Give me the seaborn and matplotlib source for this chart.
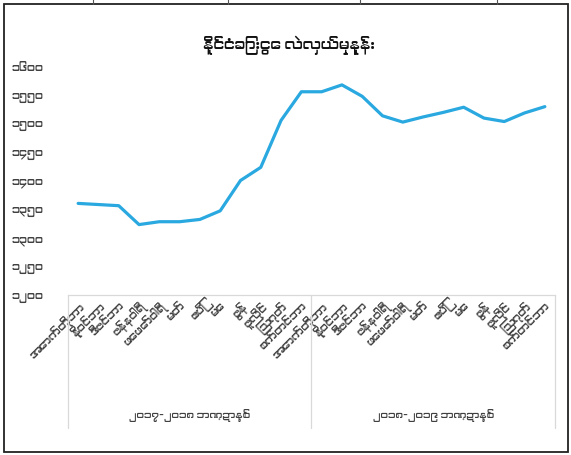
"""Foreign exchange rate line chart (Myanmar fiscal years)."""

import matplotlib
matplotlib.use("Agg")
import matplotlib.pyplot as plt
from matplotlib import font_manager
from matplotlib.lines import Line2D
from matplotlib.patches import Rectangle
from matplotlib.ticker import FuncFormatter, MultipleLocator
import numpy as np
import pandas as pd
import seaborn as sns


TITLE = "နိုင်ငံခြားငွေ လဲလှယ်မှုနှုန်း"
months = ["အောက်တိုဘာ", "နိုဝင်ဘာ", "ဒီဇင်ဘာ", "ဇန်နဝါရီ", "ဖေဖော်ဝါရီ", "မတ်",
          "ဧပြီ", "မေ", "ဇွန်", "ဇူလိုင်", "ဩဂုတ်", "စက်တင်ဘာ"]
fiscal_years = ["၂၀၁၇-၂၀၁၈ ဘဏ္ဍာနှစ်", "၂၀၁၈-၂၀၁၉ ဘဏ္ဍာနှစ်"]
rate_fy1 = [1360, 1358, 1356, 1323, 1328, 1328, 1332, 1347, 1400, 1423, 1505, 1555]
rate_fy2 = [1555, 1567, 1547, 1513, 1502, 1511, 1519, 1528, 1509, 1503, 1518, 1529]
y_ticks = [1200, 1250, 1300, 1350, 1400, 1450, 1500, 1550, 1600]

MM_DIGITS = str.maketrans("0123456789", "၀၁၂၃၄၅၆၇၈၉")

BLUE = "#2AA8E0"
GRID = "#D9D9D9"
TEXT = "#404040"


def myanmar_family():
    for f in font_manager.fontManager.ttflist:
        if any(k in f.name for k in ("Myanmar", "Padauk", "Zawgyi")):
            return [f.name, "DejaVu Sans"]
    return ["DejaVu Sans"]


sns.set_style("white")
plt.rcParams["font.family"] = myanmar_family()

df = pd.DataFrame({
    "pos": np.arange(len(months) * 2),
    "month": months + months,
    "rate": rate_fy1 + rate_fy2,
})

fig = plt.figure(figsize=(5.71, 4.56), dpi=100)
ax = fig.add_axes([68 / 571, 1 - 296 / 456, 487 / 571, 229 / 456])

sns.lineplot(data=df, x="pos", y="rate", ax=ax, color=BLUE, linewidth=2.3)

ax.set_xlim(-0.5, len(df) - 0.5)
ax.set_ylim(y_ticks[0], y_ticks[-1])
ax.yaxis.set_major_locator(MultipleLocator(50))
ax.yaxis.set_major_formatter(FuncFormatter(lambda v, _: str(int(v)).translate(MM_DIGITS)))
ax.tick_params(axis="y", length=0, pad=18, labelsize=8, labelcolor=TEXT)

ax.set_xticks(df["pos"])
ax.set_xticklabels(df["month"], rotation=45, ha="right", rotation_mode="anchor",
                   fontsize=7.8, color=TEXT)
ax.tick_params(axis="x", length=0, pad=3)
ax.set_xlabel("")
ax.set_ylabel("")

for side in ("left", "top", "right"):
    ax.spines[side].set_visible(False)
ax.spines["bottom"].set_color(GRID)
ax.spines["bottom"].set_linewidth(0.9)

# multi-level category axis: group separators and fiscal-year labels
n = len(months)
for xb in [-0.5, n - 0.5, 2 * n - 0.5]:
    ax.plot([xb, xb], [0, -0.58], transform=ax.get_xaxis_transform(),
            clip_on=False, color=GRID, linewidth=0.9)
for i, label in enumerate(fiscal_years):
    ax.text(i * n + (n - 1) / 2, -0.52, label, transform=ax.get_xaxis_transform(),
            ha="center", va="center", fontsize=7.5, color=TEXT)

fig.text(289 / 571, 1 - 45 / 456, TITLE, ha="center", va="center",
         fontsize=10.5, color="#111111")

# outer frame of the chart object
fig.add_artist(Rectangle((4 / 571, 3 / 456), 564 / 571, 448 / 456,
                         transform=fig.transFigure, fill=False,
                         edgecolor="#222222", linewidth=1.3))
for xt in [93, 228, 360, 497]:
    fig.add_artist(Line2D([xt / 571, xt / 571], [1 - 5 / 456, 1.0],
                          transform=fig.transFigure, color="#555555", linewidth=0.8))

fig.savefig("out.png", dpi=100, facecolor="white")
